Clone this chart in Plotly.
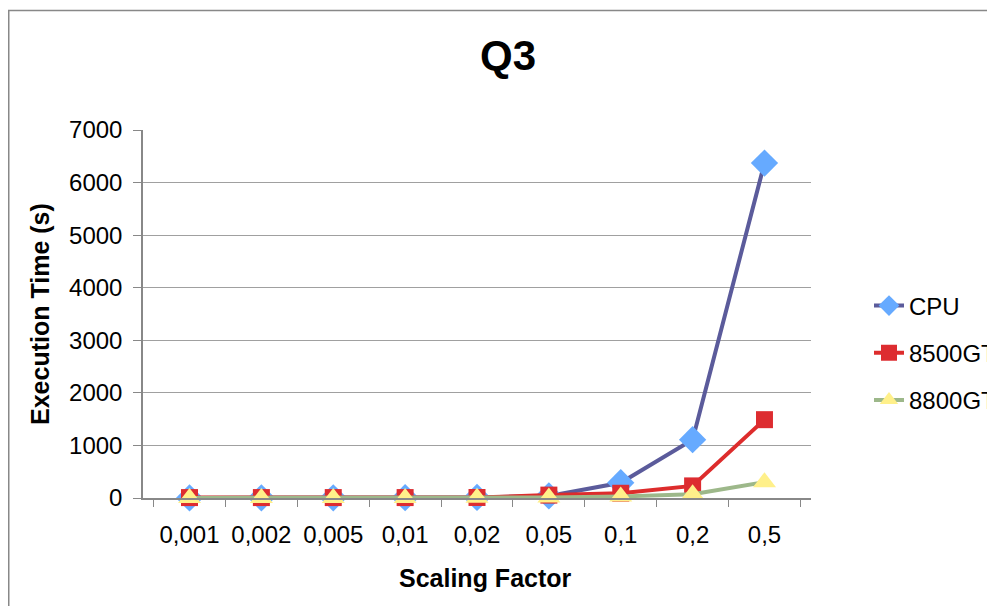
import plotly.graph_objects as go

categories = ["0,001", "0,002", "0,005", "0,01", "0,02", "0,05", "0,1", "0,2", "0,5"]
cpu = [2, 3, 4, 6, 10, 40, 290, 1110, 6370]
gt8500 = [8, 8, 8, 8, 10, 55, 90, 230, 1490]
gt8800 = [1, 1, 1, 2, 3, 10, 30, 70, 300]
y_ticks = [0, 1000, 2000, 3000, 4000, 5000, 6000, 7000]

FONT = "Liberation Sans, Arial, sans-serif"

fig = go.Figure()
fig.add_trace(go.Scatter(
    x=categories, y=cpu, name="CPU", mode="lines+markers", legendgroup="a",
    line=dict(color="#5B5B9B", width=4),
    marker=dict(symbol="diamond", size=21, color="#66AAFF"),
    cliponaxis=False))
fig.add_trace(go.Scatter(
    x=categories, y=gt8500, name="8500GT", mode="lines+markers", legendgroup="b",
    line=dict(color="#DD2C2C", width=4),
    marker=dict(symbol="square", size=17, color="#DD2C30"),
    cliponaxis=False))
fig.add_trace(go.Scatter(
    x=categories, y=gt8800, name="8800GT", mode="lines+markers", legendgroup="c",
    line=dict(color="#9DB88A", width=4),
    marker=dict(symbol="triangle-up", size=20, color="#FFF08A"),
    cliponaxis=False))

# page has an 8px body margin; figure sized so the page does not scroll
W, H = 987, 598
L, T = 135, 122
R = W - 803
B = H - 490
pw, ph = W - L - R, H - T - B

def px(x):
    return (x - L) / pw

def py(y):
    return (H - B - y) / ph

fig.update_layout(
    width=W, height=H,
    margin=dict(l=L, r=R, t=T, b=B, autoexpand=False),
    paper_bgcolor="white", plot_bgcolor="white",
    font=dict(family=FONT, size=24, color="black"),
    showlegend=True,
    legend=dict(x=px(861), y=py(345), xanchor="left", yanchor="middle",
                font=dict(size=24, family=FONT), tracegroupgap=13,
                bgcolor="rgba(0,0,0,0)", itemwidth=30, borderwidth=0),
    shapes=[dict(type="rect", xref="paper", yref="paper",
                 x0=px(0.75), x1=px(1010), y0=py(2.5), y1=py(640),
                 line=dict(color="#888888", width=1.5), fillcolor="rgba(0,0,0,0)",
                 layer="below")],
    annotations=[
        dict(text="<b>Q3</b>", xref="paper", yref="paper", x=px(500), y=py(47),
             xanchor="center", yanchor="middle", showarrow=False,
             font=dict(size=42, family=FONT)),
        dict(text="<b>Scaling Factor</b>", xref="paper", yref="paper", x=px(477), y=py(570),
             xanchor="center", yanchor="middle", showarrow=False,
             font=dict(size=25, family=FONT)),
        dict(text="<b>Execution Time (s)</b>", xref="paper", yref="paper", x=px(32), y=0.5,
             xanchor="center", yanchor="middle", showarrow=False, textangle=-90,
             font=dict(size=25, family=FONT)),
    ],
)
fig.update_xaxes(
    type="category", categoryorder="array", categoryarray=categories,
    showline=True, linecolor="#888888", linewidth=1.5,
    ticks="outside", tickson="boundaries", ticklen=7, tickcolor="#888888",
    showgrid=False, tickfont=dict(size=24), ticklabelstandoff=14,
)
fig.update_yaxes(
    range=[0, 7000], tickvals=y_ticks, tickformat="d",
    showline=True, linecolor="#888888", linewidth=1.5,
    ticks="outside", ticklen=8, tickcolor="#888888",
    showgrid=True, gridcolor="#A0A0A0", gridwidth=1,
    zeroline=False, tickfont=dict(size=24), ticklabelstandoff=6,
)

fig.write_html("out.html")
